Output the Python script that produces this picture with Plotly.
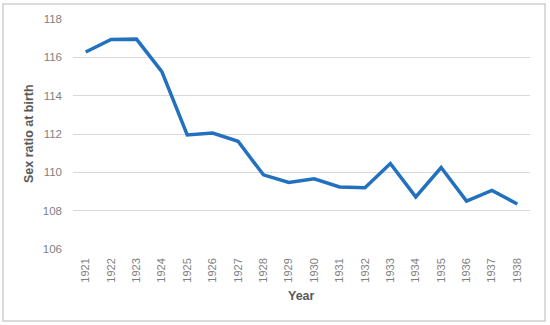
import plotly.graph_objects as go

years = ["1921", "1922", "1923", "1924", "1925", "1926", "1927", "1928", "1929",
         "1930", "1931", "1932", "1933", "1934", "1935", "1936", "1937", "1938"]
sex_ratio = [116.28, 116.93, 116.95, 115.25, 111.95, 112.05, 111.62, 109.87, 109.47,
             109.66, 109.24, 109.2, 110.46, 108.72, 110.25, 108.5, 109.06, 108.35]
y_ticks = [106, 108, 110, 112, 114, 116, 118]

L, R, T, B = 73, 20, 19, 76
W, H = 550, 325
pw, ph = W - L - R, H - T - B

fig = go.Figure()
fig.add_trace(go.Scatter(x=years, y=sex_ratio, mode="lines",
                         line=dict(color="#2271BE", width=3.5), showlegend=False))

fig.update_layout(
    width=W, height=H,
    margin=dict(l=L, r=R, t=T, b=B),
    paper_bgcolor="white", plot_bgcolor="white",
    font=dict(family="Liberation Sans, Arial, sans-serif", color="#595959"),
    xaxis=dict(type="category", range=[-0.5, len(years) - 0.5], tickangle=-90,
               tickfont=dict(size=11, color="#7f7f7f"),
               showgrid=False, showline=False, zeroline=False, ticks="", ticklabelstandoff=6),
    yaxis=dict(range=[106, 118], tickvals=y_ticks, tickfont=dict(size=11.5, color="#7f7f7f"),
               showgrid=True, gridcolor="#D9D9D9", gridwidth=1, zeroline=False,
               showline=False, ticks="", ticklabelstandoff=10),
    shapes=[dict(type="rect", xref="paper", yref="paper",
                 x0=(3 - L) / pw, x1=(545 - L) / pw,
                 y0=(H - B - 321) / ph, y1=(H - B - 4) / ph,
                 line=dict(color="#D0D0D0", width=1.5), fillcolor="rgba(0,0,0,0)",
                 layer="above")],
    annotations=[
        dict(text="<b>Year</b>", xref="paper", yref="paper", x=0.5,
             y=(H - B - 296) / ph, showarrow=False, font=dict(size=12.5, color="#595959"),
             xanchor="center", yanchor="middle"),
        dict(text="<b>Sex ratio at birth</b>", xref="paper", yref="paper",
             x=(29 - L) / pw, y=0.5, showarrow=False, textangle=-90,
             font=dict(size=12.5, color="#595959"), xanchor="center", yanchor="middle"),
    ],
)

fig.write_html("out.html", config={"displayModeBar": False},
               post_script="document.body.style.margin='0';document.body.style.padding='0';")
